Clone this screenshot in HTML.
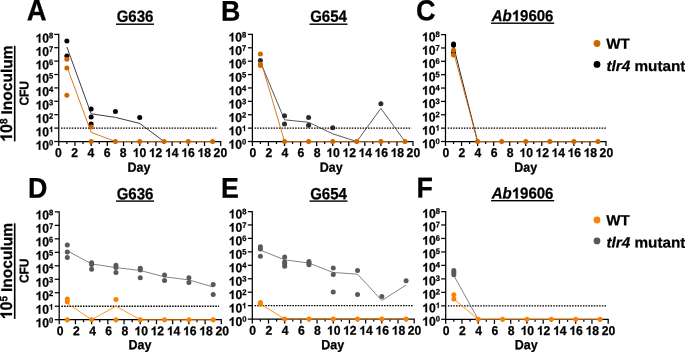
<!DOCTYPE html><html><head><meta charset="utf-8"><style>html,body{margin:0;padding:0;background:#fff;}svg{display:block;will-change:transform}text{font-family:"Liberation Sans", sans-serif;font-weight:bold;fill:#000;stroke:#000;stroke-width:0.25px} path.one{stroke:#000;stroke-width:0.25px;vector-effect:non-scaling-stroke} .t{font-size:12.2px}</style></head><body>
<svg width="685" height="352" viewBox="0 0 685 352">
<rect width="685" height="352" fill="#fff"/>
<path d="M54.25 34.30H58.75V146.00" fill="none" stroke="#000" stroke-width="1.25"/>
<line x1="54.25" y1="141.50" x2="58.75" y2="141.50" stroke="#000" stroke-width="1.25"/>
<line x1="54.25" y1="128.10" x2="58.75" y2="128.10" stroke="#000" stroke-width="1.25"/>
<line x1="54.25" y1="114.70" x2="58.75" y2="114.70" stroke="#000" stroke-width="1.25"/>
<line x1="54.25" y1="101.30" x2="58.75" y2="101.30" stroke="#000" stroke-width="1.25"/>
<line x1="54.25" y1="87.90" x2="58.75" y2="87.90" stroke="#000" stroke-width="1.25"/>
<line x1="54.25" y1="74.50" x2="58.75" y2="74.50" stroke="#000" stroke-width="1.25"/>
<line x1="54.25" y1="61.10" x2="58.75" y2="61.10" stroke="#000" stroke-width="1.25"/>
<line x1="54.25" y1="47.70" x2="58.75" y2="47.70" stroke="#000" stroke-width="1.25"/>
<path d="M58.75 141.50H220.70V146.00" fill="none" stroke="#000" stroke-width="1.25"/>
<line x1="66.85" y1="141.50" x2="66.85" y2="144.00" stroke="#000" stroke-width="1.25"/>
<line x1="74.94" y1="141.50" x2="74.94" y2="146.00" stroke="#000" stroke-width="1.25"/>
<line x1="83.04" y1="141.50" x2="83.04" y2="144.00" stroke="#000" stroke-width="1.25"/>
<line x1="91.14" y1="141.50" x2="91.14" y2="146.00" stroke="#000" stroke-width="1.25"/>
<line x1="99.24" y1="141.50" x2="99.24" y2="144.00" stroke="#000" stroke-width="1.25"/>
<line x1="107.34" y1="141.50" x2="107.34" y2="146.00" stroke="#000" stroke-width="1.25"/>
<line x1="115.43" y1="141.50" x2="115.43" y2="144.00" stroke="#000" stroke-width="1.25"/>
<line x1="123.53" y1="141.50" x2="123.53" y2="146.00" stroke="#000" stroke-width="1.25"/>
<line x1="131.63" y1="141.50" x2="131.63" y2="144.00" stroke="#000" stroke-width="1.25"/>
<line x1="139.72" y1="141.50" x2="139.72" y2="146.00" stroke="#000" stroke-width="1.25"/>
<line x1="147.82" y1="141.50" x2="147.82" y2="144.00" stroke="#000" stroke-width="1.25"/>
<line x1="155.92" y1="141.50" x2="155.92" y2="146.00" stroke="#000" stroke-width="1.25"/>
<line x1="164.02" y1="141.50" x2="164.02" y2="144.00" stroke="#000" stroke-width="1.25"/>
<line x1="172.12" y1="141.50" x2="172.12" y2="146.00" stroke="#000" stroke-width="1.25"/>
<line x1="180.21" y1="141.50" x2="180.21" y2="144.00" stroke="#000" stroke-width="1.25"/>
<line x1="188.31" y1="141.50" x2="188.31" y2="146.00" stroke="#000" stroke-width="1.25"/>
<line x1="196.41" y1="141.50" x2="196.41" y2="144.00" stroke="#000" stroke-width="1.25"/>
<line x1="204.50" y1="141.50" x2="204.50" y2="146.00" stroke="#000" stroke-width="1.25"/>
<line x1="212.60" y1="141.50" x2="212.60" y2="144.00" stroke="#000" stroke-width="1.25"/>
<g transform="translate(53.30 149.70) rotate(0.1) scale(1 1.05)"><path class="one" d="M819 0L538 0L538 1059Q384 915 175 846L175 1101Q285 1137 349.5 1187Q414 1237 478.5 1287Q543 1337 591 1466L819 1466Z" transform="translate(-17.797 0) scale(0.005957 -0.005725)"/><text x="-11.012" y="0" font-size="12.2">0</text><g transform="translate(0 -4.0)"><text x="-4.227" y="0" font-size="7.6">0</text></g></g>
<g transform="translate(53.30 136.30) rotate(0.1) scale(1 1.05)"><path class="one" d="M819 0L538 0L538 1059Q384 915 175 846L175 1101Q285 1137 349.5 1187Q414 1237 478.5 1287Q543 1337 591 1466L819 1466Z" transform="translate(-17.797 0) scale(0.005957 -0.005725)"/><text x="-11.012" y="0" font-size="12.2">0</text><g transform="translate(0 -4.0)"><path class="one" d="M819 0L538 0L538 1059Q384 915 175 846L175 1101Q285 1137 349.5 1187Q414 1237 478.5 1287Q543 1337 591 1466L819 1466Z" transform="translate(-4.227 0) scale(0.003711 -0.003567)"/></g></g>
<g transform="translate(53.30 122.90) rotate(0.1) scale(1 1.05)"><path class="one" d="M819 0L538 0L538 1059Q384 915 175 846L175 1101Q285 1137 349.5 1187Q414 1237 478.5 1287Q543 1337 591 1466L819 1466Z" transform="translate(-17.797 0) scale(0.005957 -0.005725)"/><text x="-11.012" y="0" font-size="12.2">0</text><g transform="translate(0 -4.0)"><text x="-4.227" y="0" font-size="7.6">2</text></g></g>
<g transform="translate(53.30 109.50) rotate(0.1) scale(1 1.05)"><path class="one" d="M819 0L538 0L538 1059Q384 915 175 846L175 1101Q285 1137 349.5 1187Q414 1237 478.5 1287Q543 1337 591 1466L819 1466Z" transform="translate(-17.797 0) scale(0.005957 -0.005725)"/><text x="-11.012" y="0" font-size="12.2">0</text><g transform="translate(0 -4.0)"><text x="-4.227" y="0" font-size="7.6">3</text></g></g>
<g transform="translate(53.30 96.10) rotate(0.1) scale(1 1.05)"><path class="one" d="M819 0L538 0L538 1059Q384 915 175 846L175 1101Q285 1137 349.5 1187Q414 1237 478.5 1287Q543 1337 591 1466L819 1466Z" transform="translate(-17.797 0) scale(0.005957 -0.005725)"/><text x="-11.012" y="0" font-size="12.2">0</text><g transform="translate(0 -4.0)"><text x="-4.227" y="0" font-size="7.6">4</text></g></g>
<g transform="translate(53.30 82.70) rotate(0.1) scale(1 1.05)"><path class="one" d="M819 0L538 0L538 1059Q384 915 175 846L175 1101Q285 1137 349.5 1187Q414 1237 478.5 1287Q543 1337 591 1466L819 1466Z" transform="translate(-17.797 0) scale(0.005957 -0.005725)"/><text x="-11.012" y="0" font-size="12.2">0</text><g transform="translate(0 -4.0)"><text x="-4.227" y="0" font-size="7.6">5</text></g></g>
<g transform="translate(53.30 69.30) rotate(0.1) scale(1 1.05)"><path class="one" d="M819 0L538 0L538 1059Q384 915 175 846L175 1101Q285 1137 349.5 1187Q414 1237 478.5 1287Q543 1337 591 1466L819 1466Z" transform="translate(-17.797 0) scale(0.005957 -0.005725)"/><text x="-11.012" y="0" font-size="12.2">0</text><g transform="translate(0 -4.0)"><text x="-4.227" y="0" font-size="7.6">6</text></g></g>
<g transform="translate(53.30 55.90) rotate(0.1) scale(1 1.05)"><path class="one" d="M819 0L538 0L538 1059Q384 915 175 846L175 1101Q285 1137 349.5 1187Q414 1237 478.5 1287Q543 1337 591 1466L819 1466Z" transform="translate(-17.797 0) scale(0.005957 -0.005725)"/><text x="-11.012" y="0" font-size="12.2">0</text><g transform="translate(0 -4.0)"><text x="-4.227" y="0" font-size="7.6">7</text></g></g>
<g transform="translate(53.30 42.50) rotate(0.1) scale(1 1.05)"><path class="one" d="M819 0L538 0L538 1059Q384 915 175 846L175 1101Q285 1137 349.5 1187Q414 1237 478.5 1287Q543 1337 591 1466L819 1466Z" transform="translate(-17.797 0) scale(0.005957 -0.005725)"/><text x="-11.012" y="0" font-size="12.2">0</text><g transform="translate(0 -4.0)"><text x="-4.227" y="0" font-size="7.6">8</text></g></g>
<g transform="translate(58.45 157.10) rotate(0.1) scale(1 1.05)"><text x="-3.393" y="0" font-size="12.2">0</text></g>
<g transform="translate(74.64 157.10) rotate(0.1) scale(1 1.05)"><text x="-3.393" y="0" font-size="12.2">2</text></g>
<g transform="translate(90.84 157.10) rotate(0.1) scale(1 1.05)"><text x="-3.393" y="0" font-size="12.2">4</text></g>
<g transform="translate(107.04 157.10) rotate(0.1) scale(1 1.05)"><text x="-3.393" y="0" font-size="12.2">6</text></g>
<g transform="translate(123.23 157.10) rotate(0.1) scale(1 1.05)"><text x="-3.393" y="0" font-size="12.2">8</text></g>
<g transform="translate(139.42 157.10) rotate(0.1) scale(1 1.05)"><path class="one" d="M819 0L538 0L538 1059Q384 915 175 846L175 1101Q285 1137 349.5 1187Q414 1237 478.5 1287Q543 1337 591 1466L819 1466Z" transform="translate(-6.785 0) scale(0.005957 -0.005725)"/><text x="0.000" y="0" font-size="12.2">0</text></g>
<g transform="translate(155.62 157.10) rotate(0.1) scale(1 1.05)"><path class="one" d="M819 0L538 0L538 1059Q384 915 175 846L175 1101Q285 1137 349.5 1187Q414 1237 478.5 1287Q543 1337 591 1466L819 1466Z" transform="translate(-6.785 0) scale(0.005957 -0.005725)"/><text x="0.000" y="0" font-size="12.2">2</text></g>
<g transform="translate(171.81 157.10) rotate(0.1) scale(1 1.05)"><path class="one" d="M819 0L538 0L538 1059Q384 915 175 846L175 1101Q285 1137 349.5 1187Q414 1237 478.5 1287Q543 1337 591 1466L819 1466Z" transform="translate(-6.785 0) scale(0.005957 -0.005725)"/><text x="0.000" y="0" font-size="12.2">4</text></g>
<g transform="translate(188.01 157.10) rotate(0.1) scale(1 1.05)"><path class="one" d="M819 0L538 0L538 1059Q384 915 175 846L175 1101Q285 1137 349.5 1187Q414 1237 478.5 1287Q543 1337 591 1466L819 1466Z" transform="translate(-6.785 0) scale(0.005957 -0.005725)"/><text x="0.000" y="0" font-size="12.2">6</text></g>
<g transform="translate(204.20 157.10) rotate(0.1) scale(1 1.05)"><path class="one" d="M819 0L538 0L538 1059Q384 915 175 846L175 1101Q285 1137 349.5 1187Q414 1237 478.5 1287Q543 1337 591 1466L819 1466Z" transform="translate(-6.785 0) scale(0.005957 -0.005725)"/><text x="0.000" y="0" font-size="12.2">8</text></g>
<g transform="translate(220.40 157.10) rotate(0.1) scale(1 1.05)"><text x="-6.785" y="0" font-size="12.2">20</text></g>
<line x1="60.95" y1="128.10" x2="217.80" y2="128.10" stroke="#000" stroke-width="1.35" stroke-dasharray="1.55 1.15"/>
<polyline points="66.85,47.00 91.14,113.80 115.43,117.40 139.72,123.40 164.02,141.50 212.60,141.50" fill="none" stroke="#1a1a1a" stroke-width="0.85" stroke-linejoin="round"/>
<polyline points="66.85,66.50 91.14,132.30 115.43,141.50 212.60,141.50" fill="none" stroke="#cc6600" stroke-width="0.85" stroke-linejoin="round"/>
<circle cx="66.85" cy="41.10" r="2.5" fill="#000000"/>
<circle cx="66.85" cy="55.90" r="2.5" fill="#000000"/>
<circle cx="91.14" cy="108.90" r="2.5" fill="#000000"/>
<circle cx="91.14" cy="117.00" r="2.5" fill="#000000"/>
<circle cx="91.14" cy="123.90" r="2.5" fill="#000000"/>
<circle cx="115.43" cy="111.50" r="2.5" fill="#000000"/>
<circle cx="139.72" cy="117.50" r="2.5" fill="#000000"/>
<circle cx="66.85" cy="59.30" r="2.5" fill="#cc6600"/>
<circle cx="66.85" cy="68.00" r="2.5" fill="#cc6600"/>
<circle cx="66.85" cy="95.20" r="2.5" fill="#cc6600"/>
<circle cx="91.14" cy="127.10" r="2.5" fill="#cc6600"/>
<circle cx="91.14" cy="141.50" r="2.5" fill="#cc6600"/>
<circle cx="115.43" cy="141.50" r="2.5" fill="#cc6600"/>
<circle cx="139.72" cy="141.50" r="2.5" fill="#cc6600"/>
<circle cx="164.02" cy="141.50" r="2.5" fill="#cc6600"/>
<circle cx="188.31" cy="141.50" r="2.5" fill="#cc6600"/>
<circle cx="212.60" cy="141.50" r="2.5" fill="#cc6600"/>
<path d="M247.90 34.40H252.40V146.00" fill="none" stroke="#000" stroke-width="1.25"/>
<line x1="247.90" y1="141.50" x2="252.40" y2="141.50" stroke="#000" stroke-width="1.25"/>
<line x1="247.90" y1="128.11" x2="252.40" y2="128.11" stroke="#000" stroke-width="1.25"/>
<line x1="247.90" y1="114.72" x2="252.40" y2="114.72" stroke="#000" stroke-width="1.25"/>
<line x1="247.90" y1="101.34" x2="252.40" y2="101.34" stroke="#000" stroke-width="1.25"/>
<line x1="247.90" y1="87.95" x2="252.40" y2="87.95" stroke="#000" stroke-width="1.25"/>
<line x1="247.90" y1="74.56" x2="252.40" y2="74.56" stroke="#000" stroke-width="1.25"/>
<line x1="247.90" y1="61.18" x2="252.40" y2="61.18" stroke="#000" stroke-width="1.25"/>
<line x1="247.90" y1="47.79" x2="252.40" y2="47.79" stroke="#000" stroke-width="1.25"/>
<path d="M252.40 141.50H413.00V146.00" fill="none" stroke="#000" stroke-width="1.25"/>
<line x1="260.43" y1="141.50" x2="260.43" y2="144.00" stroke="#000" stroke-width="1.25"/>
<line x1="268.46" y1="141.50" x2="268.46" y2="146.00" stroke="#000" stroke-width="1.25"/>
<line x1="276.49" y1="141.50" x2="276.49" y2="144.00" stroke="#000" stroke-width="1.25"/>
<line x1="284.52" y1="141.50" x2="284.52" y2="146.00" stroke="#000" stroke-width="1.25"/>
<line x1="292.55" y1="141.50" x2="292.55" y2="144.00" stroke="#000" stroke-width="1.25"/>
<line x1="300.58" y1="141.50" x2="300.58" y2="146.00" stroke="#000" stroke-width="1.25"/>
<line x1="308.61" y1="141.50" x2="308.61" y2="144.00" stroke="#000" stroke-width="1.25"/>
<line x1="316.64" y1="141.50" x2="316.64" y2="146.00" stroke="#000" stroke-width="1.25"/>
<line x1="324.67" y1="141.50" x2="324.67" y2="144.00" stroke="#000" stroke-width="1.25"/>
<line x1="332.70" y1="141.50" x2="332.70" y2="146.00" stroke="#000" stroke-width="1.25"/>
<line x1="340.73" y1="141.50" x2="340.73" y2="144.00" stroke="#000" stroke-width="1.25"/>
<line x1="348.76" y1="141.50" x2="348.76" y2="146.00" stroke="#000" stroke-width="1.25"/>
<line x1="356.79" y1="141.50" x2="356.79" y2="144.00" stroke="#000" stroke-width="1.25"/>
<line x1="364.82" y1="141.50" x2="364.82" y2="146.00" stroke="#000" stroke-width="1.25"/>
<line x1="372.85" y1="141.50" x2="372.85" y2="144.00" stroke="#000" stroke-width="1.25"/>
<line x1="380.88" y1="141.50" x2="380.88" y2="146.00" stroke="#000" stroke-width="1.25"/>
<line x1="388.91" y1="141.50" x2="388.91" y2="144.00" stroke="#000" stroke-width="1.25"/>
<line x1="396.94" y1="141.50" x2="396.94" y2="146.00" stroke="#000" stroke-width="1.25"/>
<line x1="404.97" y1="141.50" x2="404.97" y2="144.00" stroke="#000" stroke-width="1.25"/>
<g transform="translate(246.20 148.70) rotate(0.1) scale(1 1.05)"><path class="one" d="M819 0L538 0L538 1059Q384 915 175 846L175 1101Q285 1137 349.5 1187Q414 1237 478.5 1287Q543 1337 591 1466L819 1466Z" transform="translate(-17.797 0) scale(0.005957 -0.005725)"/><text x="-11.012" y="0" font-size="12.2">0</text><g transform="translate(0 -4.0)"><text x="-4.227" y="0" font-size="7.6">0</text></g></g>
<g transform="translate(246.20 135.31) rotate(0.1) scale(1 1.05)"><path class="one" d="M819 0L538 0L538 1059Q384 915 175 846L175 1101Q285 1137 349.5 1187Q414 1237 478.5 1287Q543 1337 591 1466L819 1466Z" transform="translate(-17.797 0) scale(0.005957 -0.005725)"/><text x="-11.012" y="0" font-size="12.2">0</text><g transform="translate(0 -4.0)"><path class="one" d="M819 0L538 0L538 1059Q384 915 175 846L175 1101Q285 1137 349.5 1187Q414 1237 478.5 1287Q543 1337 591 1466L819 1466Z" transform="translate(-4.227 0) scale(0.003711 -0.003567)"/></g></g>
<g transform="translate(246.20 121.92) rotate(0.1) scale(1 1.05)"><path class="one" d="M819 0L538 0L538 1059Q384 915 175 846L175 1101Q285 1137 349.5 1187Q414 1237 478.5 1287Q543 1337 591 1466L819 1466Z" transform="translate(-17.797 0) scale(0.005957 -0.005725)"/><text x="-11.012" y="0" font-size="12.2">0</text><g transform="translate(0 -4.0)"><text x="-4.227" y="0" font-size="7.6">2</text></g></g>
<g transform="translate(246.20 108.54) rotate(0.1) scale(1 1.05)"><path class="one" d="M819 0L538 0L538 1059Q384 915 175 846L175 1101Q285 1137 349.5 1187Q414 1237 478.5 1287Q543 1337 591 1466L819 1466Z" transform="translate(-17.797 0) scale(0.005957 -0.005725)"/><text x="-11.012" y="0" font-size="12.2">0</text><g transform="translate(0 -4.0)"><text x="-4.227" y="0" font-size="7.6">3</text></g></g>
<g transform="translate(246.20 95.15) rotate(0.1) scale(1 1.05)"><path class="one" d="M819 0L538 0L538 1059Q384 915 175 846L175 1101Q285 1137 349.5 1187Q414 1237 478.5 1287Q543 1337 591 1466L819 1466Z" transform="translate(-17.797 0) scale(0.005957 -0.005725)"/><text x="-11.012" y="0" font-size="12.2">0</text><g transform="translate(0 -4.0)"><text x="-4.227" y="0" font-size="7.6">4</text></g></g>
<g transform="translate(246.20 81.76) rotate(0.1) scale(1 1.05)"><path class="one" d="M819 0L538 0L538 1059Q384 915 175 846L175 1101Q285 1137 349.5 1187Q414 1237 478.5 1287Q543 1337 591 1466L819 1466Z" transform="translate(-17.797 0) scale(0.005957 -0.005725)"/><text x="-11.012" y="0" font-size="12.2">0</text><g transform="translate(0 -4.0)"><text x="-4.227" y="0" font-size="7.6">5</text></g></g>
<g transform="translate(246.20 68.38) rotate(0.1) scale(1 1.05)"><path class="one" d="M819 0L538 0L538 1059Q384 915 175 846L175 1101Q285 1137 349.5 1187Q414 1237 478.5 1287Q543 1337 591 1466L819 1466Z" transform="translate(-17.797 0) scale(0.005957 -0.005725)"/><text x="-11.012" y="0" font-size="12.2">0</text><g transform="translate(0 -4.0)"><text x="-4.227" y="0" font-size="7.6">6</text></g></g>
<g transform="translate(246.20 54.99) rotate(0.1) scale(1 1.05)"><path class="one" d="M819 0L538 0L538 1059Q384 915 175 846L175 1101Q285 1137 349.5 1187Q414 1237 478.5 1287Q543 1337 591 1466L819 1466Z" transform="translate(-17.797 0) scale(0.005957 -0.005725)"/><text x="-11.012" y="0" font-size="12.2">0</text><g transform="translate(0 -4.0)"><text x="-4.227" y="0" font-size="7.6">7</text></g></g>
<g transform="translate(246.20 41.60) rotate(0.1) scale(1 1.05)"><path class="one" d="M819 0L538 0L538 1059Q384 915 175 846L175 1101Q285 1137 349.5 1187Q414 1237 478.5 1287Q543 1337 591 1466L819 1466Z" transform="translate(-17.797 0) scale(0.005957 -0.005725)"/><text x="-11.012" y="0" font-size="12.2">0</text><g transform="translate(0 -4.0)"><text x="-4.227" y="0" font-size="7.6">8</text></g></g>
<g transform="translate(252.80 157.10) rotate(0.1) scale(1 1.05)"><text x="-3.393" y="0" font-size="12.2">0</text></g>
<g transform="translate(268.86 157.10) rotate(0.1) scale(1 1.05)"><text x="-3.393" y="0" font-size="12.2">2</text></g>
<g transform="translate(284.92 157.10) rotate(0.1) scale(1 1.05)"><text x="-3.393" y="0" font-size="12.2">4</text></g>
<g transform="translate(300.98 157.10) rotate(0.1) scale(1 1.05)"><text x="-3.393" y="0" font-size="12.2">6</text></g>
<g transform="translate(317.04 157.10) rotate(0.1) scale(1 1.05)"><text x="-3.393" y="0" font-size="12.2">8</text></g>
<g transform="translate(333.10 157.10) rotate(0.1) scale(1 1.05)"><path class="one" d="M819 0L538 0L538 1059Q384 915 175 846L175 1101Q285 1137 349.5 1187Q414 1237 478.5 1287Q543 1337 591 1466L819 1466Z" transform="translate(-6.785 0) scale(0.005957 -0.005725)"/><text x="0.000" y="0" font-size="12.2">0</text></g>
<g transform="translate(349.16 157.10) rotate(0.1) scale(1 1.05)"><path class="one" d="M819 0L538 0L538 1059Q384 915 175 846L175 1101Q285 1137 349.5 1187Q414 1237 478.5 1287Q543 1337 591 1466L819 1466Z" transform="translate(-6.785 0) scale(0.005957 -0.005725)"/><text x="0.000" y="0" font-size="12.2">2</text></g>
<g transform="translate(365.22 157.10) rotate(0.1) scale(1 1.05)"><path class="one" d="M819 0L538 0L538 1059Q384 915 175 846L175 1101Q285 1137 349.5 1187Q414 1237 478.5 1287Q543 1337 591 1466L819 1466Z" transform="translate(-6.785 0) scale(0.005957 -0.005725)"/><text x="0.000" y="0" font-size="12.2">4</text></g>
<g transform="translate(381.28 157.10) rotate(0.1) scale(1 1.05)"><path class="one" d="M819 0L538 0L538 1059Q384 915 175 846L175 1101Q285 1137 349.5 1187Q414 1237 478.5 1287Q543 1337 591 1466L819 1466Z" transform="translate(-6.785 0) scale(0.005957 -0.005725)"/><text x="0.000" y="0" font-size="12.2">6</text></g>
<g transform="translate(397.34 157.10) rotate(0.1) scale(1 1.05)"><path class="one" d="M819 0L538 0L538 1059Q384 915 175 846L175 1101Q285 1137 349.5 1187Q414 1237 478.5 1287Q543 1337 591 1466L819 1466Z" transform="translate(-6.785 0) scale(0.005957 -0.005725)"/><text x="0.000" y="0" font-size="12.2">8</text></g>
<g transform="translate(413.40 157.10) rotate(0.1) scale(1 1.05)"><text x="-6.785" y="0" font-size="12.2">20</text></g>
<line x1="254.60" y1="128.11" x2="411.40" y2="128.11" stroke="#000" stroke-width="1.35" stroke-dasharray="1.55 1.15"/>
<polyline points="260.43,62.00 284.52,119.80 308.61,122.30 332.70,133.80 356.79,141.50 380.88,108.40 404.97,141.50" fill="none" stroke="#3c3c3c" stroke-width="0.85" stroke-linejoin="round"/>
<polyline points="260.43,59.50 284.52,141.50 404.97,141.50" fill="none" stroke="#cc6600" stroke-width="0.85" stroke-linejoin="round"/>
<circle cx="260.43" cy="60.50" r="2.5" fill="#2b2b2b"/>
<circle cx="284.52" cy="115.70" r="2.5" fill="#2b2b2b"/>
<circle cx="284.52" cy="124.00" r="2.5" fill="#2b2b2b"/>
<circle cx="308.61" cy="117.50" r="2.5" fill="#2b2b2b"/>
<circle cx="308.61" cy="125.20" r="2.5" fill="#2b2b2b"/>
<circle cx="332.70" cy="127.80" r="2.5" fill="#2b2b2b"/>
<circle cx="380.88" cy="103.70" r="2.5" fill="#2b2b2b"/>
<circle cx="260.43" cy="53.90" r="2.5" fill="#cc6600"/>
<circle cx="260.43" cy="64.30" r="2.5" fill="#cc6600"/>
<circle cx="260.43" cy="65.60" r="2.5" fill="#cc6600"/>
<circle cx="284.52" cy="141.50" r="2.5" fill="#cc6600"/>
<circle cx="308.61" cy="141.50" r="2.5" fill="#cc6600"/>
<circle cx="332.70" cy="141.50" r="2.5" fill="#cc6600"/>
<circle cx="356.79" cy="141.50" r="2.5" fill="#cc6600"/>
<circle cx="380.88" cy="141.50" r="2.5" fill="#cc6600"/>
<circle cx="404.97" cy="141.50" r="2.5" fill="#cc6600"/>
<path d="M441.00 34.60H445.50V146.00" fill="none" stroke="#000" stroke-width="1.25"/>
<line x1="441.00" y1="141.50" x2="445.50" y2="141.50" stroke="#000" stroke-width="1.25"/>
<line x1="441.00" y1="128.14" x2="445.50" y2="128.14" stroke="#000" stroke-width="1.25"/>
<line x1="441.00" y1="114.78" x2="445.50" y2="114.78" stroke="#000" stroke-width="1.25"/>
<line x1="441.00" y1="101.41" x2="445.50" y2="101.41" stroke="#000" stroke-width="1.25"/>
<line x1="441.00" y1="88.05" x2="445.50" y2="88.05" stroke="#000" stroke-width="1.25"/>
<line x1="441.00" y1="74.69" x2="445.50" y2="74.69" stroke="#000" stroke-width="1.25"/>
<line x1="441.00" y1="61.32" x2="445.50" y2="61.32" stroke="#000" stroke-width="1.25"/>
<line x1="441.00" y1="47.96" x2="445.50" y2="47.96" stroke="#000" stroke-width="1.25"/>
<path d="M445.50 141.50H606.00V146.00" fill="none" stroke="#000" stroke-width="1.25"/>
<line x1="453.52" y1="141.50" x2="453.52" y2="144.00" stroke="#000" stroke-width="1.25"/>
<line x1="461.55" y1="141.50" x2="461.55" y2="146.00" stroke="#000" stroke-width="1.25"/>
<line x1="469.57" y1="141.50" x2="469.57" y2="144.00" stroke="#000" stroke-width="1.25"/>
<line x1="477.60" y1="141.50" x2="477.60" y2="146.00" stroke="#000" stroke-width="1.25"/>
<line x1="485.62" y1="141.50" x2="485.62" y2="144.00" stroke="#000" stroke-width="1.25"/>
<line x1="493.65" y1="141.50" x2="493.65" y2="146.00" stroke="#000" stroke-width="1.25"/>
<line x1="501.68" y1="141.50" x2="501.68" y2="144.00" stroke="#000" stroke-width="1.25"/>
<line x1="509.70" y1="141.50" x2="509.70" y2="146.00" stroke="#000" stroke-width="1.25"/>
<line x1="517.73" y1="141.50" x2="517.73" y2="144.00" stroke="#000" stroke-width="1.25"/>
<line x1="525.75" y1="141.50" x2="525.75" y2="146.00" stroke="#000" stroke-width="1.25"/>
<line x1="533.77" y1="141.50" x2="533.77" y2="144.00" stroke="#000" stroke-width="1.25"/>
<line x1="541.80" y1="141.50" x2="541.80" y2="146.00" stroke="#000" stroke-width="1.25"/>
<line x1="549.83" y1="141.50" x2="549.83" y2="144.00" stroke="#000" stroke-width="1.25"/>
<line x1="557.85" y1="141.50" x2="557.85" y2="146.00" stroke="#000" stroke-width="1.25"/>
<line x1="565.88" y1="141.50" x2="565.88" y2="144.00" stroke="#000" stroke-width="1.25"/>
<line x1="573.90" y1="141.50" x2="573.90" y2="146.00" stroke="#000" stroke-width="1.25"/>
<line x1="581.92" y1="141.50" x2="581.92" y2="144.00" stroke="#000" stroke-width="1.25"/>
<line x1="589.95" y1="141.50" x2="589.95" y2="146.00" stroke="#000" stroke-width="1.25"/>
<line x1="597.98" y1="141.50" x2="597.98" y2="144.00" stroke="#000" stroke-width="1.25"/>
<g transform="translate(439.70 148.20) rotate(0.1) scale(1 1.05)"><path class="one" d="M819 0L538 0L538 1059Q384 915 175 846L175 1101Q285 1137 349.5 1187Q414 1237 478.5 1287Q543 1337 591 1466L819 1466Z" transform="translate(-17.797 0) scale(0.005957 -0.005725)"/><text x="-11.012" y="0" font-size="12.2">0</text><g transform="translate(0 -4.0)"><text x="-4.227" y="0" font-size="7.6">0</text></g></g>
<g transform="translate(439.70 134.84) rotate(0.1) scale(1 1.05)"><path class="one" d="M819 0L538 0L538 1059Q384 915 175 846L175 1101Q285 1137 349.5 1187Q414 1237 478.5 1287Q543 1337 591 1466L819 1466Z" transform="translate(-17.797 0) scale(0.005957 -0.005725)"/><text x="-11.012" y="0" font-size="12.2">0</text><g transform="translate(0 -4.0)"><path class="one" d="M819 0L538 0L538 1059Q384 915 175 846L175 1101Q285 1137 349.5 1187Q414 1237 478.5 1287Q543 1337 591 1466L819 1466Z" transform="translate(-4.227 0) scale(0.003711 -0.003567)"/></g></g>
<g transform="translate(439.70 121.48) rotate(0.1) scale(1 1.05)"><path class="one" d="M819 0L538 0L538 1059Q384 915 175 846L175 1101Q285 1137 349.5 1187Q414 1237 478.5 1287Q543 1337 591 1466L819 1466Z" transform="translate(-17.797 0) scale(0.005957 -0.005725)"/><text x="-11.012" y="0" font-size="12.2">0</text><g transform="translate(0 -4.0)"><text x="-4.227" y="0" font-size="7.6">2</text></g></g>
<g transform="translate(439.70 108.11) rotate(0.1) scale(1 1.05)"><path class="one" d="M819 0L538 0L538 1059Q384 915 175 846L175 1101Q285 1137 349.5 1187Q414 1237 478.5 1287Q543 1337 591 1466L819 1466Z" transform="translate(-17.797 0) scale(0.005957 -0.005725)"/><text x="-11.012" y="0" font-size="12.2">0</text><g transform="translate(0 -4.0)"><text x="-4.227" y="0" font-size="7.6">3</text></g></g>
<g transform="translate(439.70 94.75) rotate(0.1) scale(1 1.05)"><path class="one" d="M819 0L538 0L538 1059Q384 915 175 846L175 1101Q285 1137 349.5 1187Q414 1237 478.5 1287Q543 1337 591 1466L819 1466Z" transform="translate(-17.797 0) scale(0.005957 -0.005725)"/><text x="-11.012" y="0" font-size="12.2">0</text><g transform="translate(0 -4.0)"><text x="-4.227" y="0" font-size="7.6">4</text></g></g>
<g transform="translate(439.70 81.39) rotate(0.1) scale(1 1.05)"><path class="one" d="M819 0L538 0L538 1059Q384 915 175 846L175 1101Q285 1137 349.5 1187Q414 1237 478.5 1287Q543 1337 591 1466L819 1466Z" transform="translate(-17.797 0) scale(0.005957 -0.005725)"/><text x="-11.012" y="0" font-size="12.2">0</text><g transform="translate(0 -4.0)"><text x="-4.227" y="0" font-size="7.6">5</text></g></g>
<g transform="translate(439.70 68.02) rotate(0.1) scale(1 1.05)"><path class="one" d="M819 0L538 0L538 1059Q384 915 175 846L175 1101Q285 1137 349.5 1187Q414 1237 478.5 1287Q543 1337 591 1466L819 1466Z" transform="translate(-17.797 0) scale(0.005957 -0.005725)"/><text x="-11.012" y="0" font-size="12.2">0</text><g transform="translate(0 -4.0)"><text x="-4.227" y="0" font-size="7.6">6</text></g></g>
<g transform="translate(439.70 54.66) rotate(0.1) scale(1 1.05)"><path class="one" d="M819 0L538 0L538 1059Q384 915 175 846L175 1101Q285 1137 349.5 1187Q414 1237 478.5 1287Q543 1337 591 1466L819 1466Z" transform="translate(-17.797 0) scale(0.005957 -0.005725)"/><text x="-11.012" y="0" font-size="12.2">0</text><g transform="translate(0 -4.0)"><text x="-4.227" y="0" font-size="7.6">7</text></g></g>
<g transform="translate(439.70 41.30) rotate(0.1) scale(1 1.05)"><path class="one" d="M819 0L538 0L538 1059Q384 915 175 846L175 1101Q285 1137 349.5 1187Q414 1237 478.5 1287Q543 1337 591 1466L819 1466Z" transform="translate(-17.797 0) scale(0.005957 -0.005725)"/><text x="-11.012" y="0" font-size="12.2">0</text><g transform="translate(0 -4.0)"><text x="-4.227" y="0" font-size="7.6">8</text></g></g>
<g transform="translate(445.90 157.10) rotate(0.1) scale(1 1.05)"><text x="-3.393" y="0" font-size="12.2">0</text></g>
<g transform="translate(461.95 157.10) rotate(0.1) scale(1 1.05)"><text x="-3.393" y="0" font-size="12.2">2</text></g>
<g transform="translate(478.00 157.10) rotate(0.1) scale(1 1.05)"><text x="-3.393" y="0" font-size="12.2">4</text></g>
<g transform="translate(494.05 157.10) rotate(0.1) scale(1 1.05)"><text x="-3.393" y="0" font-size="12.2">6</text></g>
<g transform="translate(510.10 157.10) rotate(0.1) scale(1 1.05)"><text x="-3.393" y="0" font-size="12.2">8</text></g>
<g transform="translate(526.15 157.10) rotate(0.1) scale(1 1.05)"><path class="one" d="M819 0L538 0L538 1059Q384 915 175 846L175 1101Q285 1137 349.5 1187Q414 1237 478.5 1287Q543 1337 591 1466L819 1466Z" transform="translate(-6.785 0) scale(0.005957 -0.005725)"/><text x="0.000" y="0" font-size="12.2">0</text></g>
<g transform="translate(542.20 157.10) rotate(0.1) scale(1 1.05)"><path class="one" d="M819 0L538 0L538 1059Q384 915 175 846L175 1101Q285 1137 349.5 1187Q414 1237 478.5 1287Q543 1337 591 1466L819 1466Z" transform="translate(-6.785 0) scale(0.005957 -0.005725)"/><text x="0.000" y="0" font-size="12.2">2</text></g>
<g transform="translate(558.25 157.10) rotate(0.1) scale(1 1.05)"><path class="one" d="M819 0L538 0L538 1059Q384 915 175 846L175 1101Q285 1137 349.5 1187Q414 1237 478.5 1287Q543 1337 591 1466L819 1466Z" transform="translate(-6.785 0) scale(0.005957 -0.005725)"/><text x="0.000" y="0" font-size="12.2">4</text></g>
<g transform="translate(574.30 157.10) rotate(0.1) scale(1 1.05)"><path class="one" d="M819 0L538 0L538 1059Q384 915 175 846L175 1101Q285 1137 349.5 1187Q414 1237 478.5 1287Q543 1337 591 1466L819 1466Z" transform="translate(-6.785 0) scale(0.005957 -0.005725)"/><text x="0.000" y="0" font-size="12.2">6</text></g>
<g transform="translate(590.35 157.10) rotate(0.1) scale(1 1.05)"><path class="one" d="M819 0L538 0L538 1059Q384 915 175 846L175 1101Q285 1137 349.5 1187Q414 1237 478.5 1287Q543 1337 591 1466L819 1466Z" transform="translate(-6.785 0) scale(0.005957 -0.005725)"/><text x="0.000" y="0" font-size="12.2">8</text></g>
<g transform="translate(606.40 157.10) rotate(0.1) scale(1 1.05)"><text x="-6.785" y="0" font-size="12.2">20</text></g>
<line x1="447.70" y1="128.14" x2="606.20" y2="128.14" stroke="#000" stroke-width="1.35" stroke-dasharray="1.55 1.15"/>
<polyline points="453.52,46.00 477.60,141.50" fill="none" stroke="#000" stroke-width="0.85" stroke-linejoin="round"/>
<polyline points="453.52,52.00 477.60,141.50 597.98,141.50" fill="none" stroke="#cc6600" stroke-width="0.85" stroke-linejoin="round"/>
<circle cx="453.52" cy="44.00" r="2.5" fill="#000000"/>
<circle cx="453.52" cy="45.20" r="2.5" fill="#000000"/>
<circle cx="453.52" cy="52.80" r="2.5" fill="#000000"/>
<circle cx="453.52" cy="50.20" r="2.5" fill="#cc6600"/>
<circle cx="453.52" cy="55.00" r="2.5" fill="#cc6600"/>
<circle cx="477.60" cy="141.50" r="2.5" fill="#cc6600"/>
<circle cx="501.68" cy="141.50" r="2.5" fill="#cc6600"/>
<circle cx="525.75" cy="141.50" r="2.5" fill="#cc6600"/>
<circle cx="549.83" cy="141.50" r="2.5" fill="#cc6600"/>
<circle cx="573.90" cy="141.50" r="2.5" fill="#cc6600"/>
<circle cx="597.98" cy="141.50" r="2.5" fill="#cc6600"/>
<path d="M54.70 211.90H59.20V324.20" fill="none" stroke="#000" stroke-width="1.25"/>
<line x1="54.70" y1="319.70" x2="59.20" y2="319.70" stroke="#000" stroke-width="1.25"/>
<line x1="54.70" y1="306.22" x2="59.20" y2="306.22" stroke="#000" stroke-width="1.25"/>
<line x1="54.70" y1="292.75" x2="59.20" y2="292.75" stroke="#000" stroke-width="1.25"/>
<line x1="54.70" y1="279.27" x2="59.20" y2="279.27" stroke="#000" stroke-width="1.25"/>
<line x1="54.70" y1="265.80" x2="59.20" y2="265.80" stroke="#000" stroke-width="1.25"/>
<line x1="54.70" y1="252.32" x2="59.20" y2="252.32" stroke="#000" stroke-width="1.25"/>
<line x1="54.70" y1="238.85" x2="59.20" y2="238.85" stroke="#000" stroke-width="1.25"/>
<line x1="54.70" y1="225.38" x2="59.20" y2="225.38" stroke="#000" stroke-width="1.25"/>
<path d="M59.20 319.70H221.30V324.20" fill="none" stroke="#000" stroke-width="1.25"/>
<line x1="67.31" y1="319.70" x2="67.31" y2="322.20" stroke="#000" stroke-width="1.25"/>
<line x1="75.41" y1="319.70" x2="75.41" y2="324.20" stroke="#000" stroke-width="1.25"/>
<line x1="83.52" y1="319.70" x2="83.52" y2="322.20" stroke="#000" stroke-width="1.25"/>
<line x1="91.62" y1="319.70" x2="91.62" y2="324.20" stroke="#000" stroke-width="1.25"/>
<line x1="99.73" y1="319.70" x2="99.73" y2="322.20" stroke="#000" stroke-width="1.25"/>
<line x1="107.83" y1="319.70" x2="107.83" y2="324.20" stroke="#000" stroke-width="1.25"/>
<line x1="115.94" y1="319.70" x2="115.94" y2="322.20" stroke="#000" stroke-width="1.25"/>
<line x1="124.04" y1="319.70" x2="124.04" y2="324.20" stroke="#000" stroke-width="1.25"/>
<line x1="132.15" y1="319.70" x2="132.15" y2="322.20" stroke="#000" stroke-width="1.25"/>
<line x1="140.25" y1="319.70" x2="140.25" y2="324.20" stroke="#000" stroke-width="1.25"/>
<line x1="148.36" y1="319.70" x2="148.36" y2="322.20" stroke="#000" stroke-width="1.25"/>
<line x1="156.46" y1="319.70" x2="156.46" y2="324.20" stroke="#000" stroke-width="1.25"/>
<line x1="164.56" y1="319.70" x2="164.56" y2="322.20" stroke="#000" stroke-width="1.25"/>
<line x1="172.67" y1="319.70" x2="172.67" y2="324.20" stroke="#000" stroke-width="1.25"/>
<line x1="180.78" y1="319.70" x2="180.78" y2="322.20" stroke="#000" stroke-width="1.25"/>
<line x1="188.88" y1="319.70" x2="188.88" y2="324.20" stroke="#000" stroke-width="1.25"/>
<line x1="196.99" y1="319.70" x2="196.99" y2="322.20" stroke="#000" stroke-width="1.25"/>
<line x1="205.09" y1="319.70" x2="205.09" y2="324.20" stroke="#000" stroke-width="1.25"/>
<line x1="213.19" y1="319.70" x2="213.19" y2="322.20" stroke="#000" stroke-width="1.25"/>
<g transform="translate(53.25 327.20) rotate(0.1) scale(1 1.05)"><path class="one" d="M819 0L538 0L538 1059Q384 915 175 846L175 1101Q285 1137 349.5 1187Q414 1237 478.5 1287Q543 1337 591 1466L819 1466Z" transform="translate(-17.797 0) scale(0.005957 -0.005725)"/><text x="-11.012" y="0" font-size="12.2">0</text><g transform="translate(0 -4.0)"><text x="-4.227" y="0" font-size="7.6">0</text></g></g>
<g transform="translate(53.25 313.72) rotate(0.1) scale(1 1.05)"><path class="one" d="M819 0L538 0L538 1059Q384 915 175 846L175 1101Q285 1137 349.5 1187Q414 1237 478.5 1287Q543 1337 591 1466L819 1466Z" transform="translate(-17.797 0) scale(0.005957 -0.005725)"/><text x="-11.012" y="0" font-size="12.2">0</text><g transform="translate(0 -4.0)"><path class="one" d="M819 0L538 0L538 1059Q384 915 175 846L175 1101Q285 1137 349.5 1187Q414 1237 478.5 1287Q543 1337 591 1466L819 1466Z" transform="translate(-4.227 0) scale(0.003711 -0.003567)"/></g></g>
<g transform="translate(53.25 300.25) rotate(0.1) scale(1 1.05)"><path class="one" d="M819 0L538 0L538 1059Q384 915 175 846L175 1101Q285 1137 349.5 1187Q414 1237 478.5 1287Q543 1337 591 1466L819 1466Z" transform="translate(-17.797 0) scale(0.005957 -0.005725)"/><text x="-11.012" y="0" font-size="12.2">0</text><g transform="translate(0 -4.0)"><text x="-4.227" y="0" font-size="7.6">2</text></g></g>
<g transform="translate(53.25 286.77) rotate(0.1) scale(1 1.05)"><path class="one" d="M819 0L538 0L538 1059Q384 915 175 846L175 1101Q285 1137 349.5 1187Q414 1237 478.5 1287Q543 1337 591 1466L819 1466Z" transform="translate(-17.797 0) scale(0.005957 -0.005725)"/><text x="-11.012" y="0" font-size="12.2">0</text><g transform="translate(0 -4.0)"><text x="-4.227" y="0" font-size="7.6">3</text></g></g>
<g transform="translate(53.25 273.30) rotate(0.1) scale(1 1.05)"><path class="one" d="M819 0L538 0L538 1059Q384 915 175 846L175 1101Q285 1137 349.5 1187Q414 1237 478.5 1287Q543 1337 591 1466L819 1466Z" transform="translate(-17.797 0) scale(0.005957 -0.005725)"/><text x="-11.012" y="0" font-size="12.2">0</text><g transform="translate(0 -4.0)"><text x="-4.227" y="0" font-size="7.6">4</text></g></g>
<g transform="translate(53.25 259.82) rotate(0.1) scale(1 1.05)"><path class="one" d="M819 0L538 0L538 1059Q384 915 175 846L175 1101Q285 1137 349.5 1187Q414 1237 478.5 1287Q543 1337 591 1466L819 1466Z" transform="translate(-17.797 0) scale(0.005957 -0.005725)"/><text x="-11.012" y="0" font-size="12.2">0</text><g transform="translate(0 -4.0)"><text x="-4.227" y="0" font-size="7.6">5</text></g></g>
<g transform="translate(53.25 246.35) rotate(0.1) scale(1 1.05)"><path class="one" d="M819 0L538 0L538 1059Q384 915 175 846L175 1101Q285 1137 349.5 1187Q414 1237 478.5 1287Q543 1337 591 1466L819 1466Z" transform="translate(-17.797 0) scale(0.005957 -0.005725)"/><text x="-11.012" y="0" font-size="12.2">0</text><g transform="translate(0 -4.0)"><text x="-4.227" y="0" font-size="7.6">6</text></g></g>
<g transform="translate(53.25 232.88) rotate(0.1) scale(1 1.05)"><path class="one" d="M819 0L538 0L538 1059Q384 915 175 846L175 1101Q285 1137 349.5 1187Q414 1237 478.5 1287Q543 1337 591 1466L819 1466Z" transform="translate(-17.797 0) scale(0.005957 -0.005725)"/><text x="-11.012" y="0" font-size="12.2">0</text><g transform="translate(0 -4.0)"><text x="-4.227" y="0" font-size="7.6">7</text></g></g>
<g transform="translate(53.25 219.40) rotate(0.1) scale(1 1.05)"><path class="one" d="M819 0L538 0L538 1059Q384 915 175 846L175 1101Q285 1137 349.5 1187Q414 1237 478.5 1287Q543 1337 591 1466L819 1466Z" transform="translate(-17.797 0) scale(0.005957 -0.005725)"/><text x="-11.012" y="0" font-size="12.2">0</text><g transform="translate(0 -4.0)"><text x="-4.227" y="0" font-size="7.6">8</text></g></g>
<g transform="translate(60.10 335.30) rotate(0.1) scale(1 1.05)"><text x="-3.393" y="0" font-size="12.2">0</text></g>
<g transform="translate(76.31 335.30) rotate(0.1) scale(1 1.05)"><text x="-3.393" y="0" font-size="12.2">2</text></g>
<g transform="translate(92.52 335.30) rotate(0.1) scale(1 1.05)"><text x="-3.393" y="0" font-size="12.2">4</text></g>
<g transform="translate(108.73 335.30) rotate(0.1) scale(1 1.05)"><text x="-3.393" y="0" font-size="12.2">6</text></g>
<g transform="translate(124.94 335.30) rotate(0.1) scale(1 1.05)"><text x="-3.393" y="0" font-size="12.2">8</text></g>
<g transform="translate(141.15 335.30) rotate(0.1) scale(1 1.05)"><path class="one" d="M819 0L538 0L538 1059Q384 915 175 846L175 1101Q285 1137 349.5 1187Q414 1237 478.5 1287Q543 1337 591 1466L819 1466Z" transform="translate(-6.785 0) scale(0.005957 -0.005725)"/><text x="0.000" y="0" font-size="12.2">0</text></g>
<g transform="translate(157.36 335.30) rotate(0.1) scale(1 1.05)"><path class="one" d="M819 0L538 0L538 1059Q384 915 175 846L175 1101Q285 1137 349.5 1187Q414 1237 478.5 1287Q543 1337 591 1466L819 1466Z" transform="translate(-6.785 0) scale(0.005957 -0.005725)"/><text x="0.000" y="0" font-size="12.2">2</text></g>
<g transform="translate(173.57 335.30) rotate(0.1) scale(1 1.05)"><path class="one" d="M819 0L538 0L538 1059Q384 915 175 846L175 1101Q285 1137 349.5 1187Q414 1237 478.5 1287Q543 1337 591 1466L819 1466Z" transform="translate(-6.785 0) scale(0.005957 -0.005725)"/><text x="0.000" y="0" font-size="12.2">4</text></g>
<g transform="translate(189.78 335.30) rotate(0.1) scale(1 1.05)"><path class="one" d="M819 0L538 0L538 1059Q384 915 175 846L175 1101Q285 1137 349.5 1187Q414 1237 478.5 1287Q543 1337 591 1466L819 1466Z" transform="translate(-6.785 0) scale(0.005957 -0.005725)"/><text x="0.000" y="0" font-size="12.2">6</text></g>
<g transform="translate(205.99 335.30) rotate(0.1) scale(1 1.05)"><path class="one" d="M819 0L538 0L538 1059Q384 915 175 846L175 1101Q285 1137 349.5 1187Q414 1237 478.5 1287Q543 1337 591 1466L819 1466Z" transform="translate(-6.785 0) scale(0.005957 -0.005725)"/><text x="0.000" y="0" font-size="12.2">8</text></g>
<g transform="translate(222.20 335.30) rotate(0.1) scale(1 1.05)"><text x="-6.785" y="0" font-size="12.2">20</text></g>
<line x1="61.40" y1="306.22" x2="219.00" y2="306.22" stroke="#000" stroke-width="1.35" stroke-dasharray="1.55 1.15"/>
<polyline points="67.31,250.80 91.62,263.90 115.94,267.60 140.25,270.50 164.56,276.80 188.88,279.90 213.19,287.00" fill="none" stroke="#6e6e6e" stroke-width="0.85" stroke-linejoin="round"/>
<polyline points="67.31,303.20 91.62,319.70 115.94,306.20 140.25,319.70 213.19,319.70" fill="none" stroke="#ff8000" stroke-width="0.85" stroke-linejoin="round"/>
<circle cx="67.31" cy="245.10" r="2.5" fill="#595959"/>
<circle cx="67.31" cy="251.90" r="2.5" fill="#595959"/>
<circle cx="67.31" cy="257.60" r="2.5" fill="#595959"/>
<circle cx="91.62" cy="262.70" r="2.5" fill="#595959"/>
<circle cx="91.62" cy="264.40" r="2.5" fill="#595959"/>
<circle cx="91.62" cy="269.30" r="2.5" fill="#595959"/>
<circle cx="115.94" cy="265.30" r="2.5" fill="#595959"/>
<circle cx="115.94" cy="267.60" r="2.5" fill="#595959"/>
<circle cx="115.94" cy="272.50" r="2.5" fill="#595959"/>
<circle cx="140.25" cy="268.20" r="2.5" fill="#595959"/>
<circle cx="140.25" cy="269.90" r="2.5" fill="#595959"/>
<circle cx="140.25" cy="277.80" r="2.5" fill="#595959"/>
<circle cx="164.56" cy="274.90" r="2.5" fill="#595959"/>
<circle cx="164.56" cy="280.60" r="2.5" fill="#595959"/>
<circle cx="188.88" cy="277.80" r="2.5" fill="#595959"/>
<circle cx="188.88" cy="282.40" r="2.5" fill="#595959"/>
<circle cx="213.19" cy="284.40" r="2.5" fill="#595959"/>
<circle cx="213.19" cy="294.50" r="2.5" fill="#595959"/>
<circle cx="67.31" cy="298.90" r="2.5" fill="#ff8000"/>
<circle cx="67.31" cy="301.80" r="2.5" fill="#ff8000"/>
<circle cx="67.31" cy="319.70" r="2.5" fill="#ff8000"/>
<circle cx="91.62" cy="319.70" r="2.5" fill="#ff8000"/>
<circle cx="115.94" cy="299.50" r="2.5" fill="#ff8000"/>
<circle cx="115.94" cy="319.70" r="2.5" fill="#ff8000"/>
<circle cx="140.25" cy="319.70" r="2.5" fill="#ff8000"/>
<circle cx="164.56" cy="319.70" r="2.5" fill="#ff8000"/>
<circle cx="188.88" cy="319.70" r="2.5" fill="#ff8000"/>
<circle cx="213.19" cy="319.70" r="2.5" fill="#ff8000"/>
<path d="M247.80 211.50H252.30V323.60" fill="none" stroke="#000" stroke-width="1.25"/>
<line x1="247.80" y1="319.10" x2="252.30" y2="319.10" stroke="#000" stroke-width="1.25"/>
<line x1="247.80" y1="305.65" x2="252.30" y2="305.65" stroke="#000" stroke-width="1.25"/>
<line x1="247.80" y1="292.20" x2="252.30" y2="292.20" stroke="#000" stroke-width="1.25"/>
<line x1="247.80" y1="278.75" x2="252.30" y2="278.75" stroke="#000" stroke-width="1.25"/>
<line x1="247.80" y1="265.30" x2="252.30" y2="265.30" stroke="#000" stroke-width="1.25"/>
<line x1="247.80" y1="251.85" x2="252.30" y2="251.85" stroke="#000" stroke-width="1.25"/>
<line x1="247.80" y1="238.40" x2="252.30" y2="238.40" stroke="#000" stroke-width="1.25"/>
<line x1="247.80" y1="224.95" x2="252.30" y2="224.95" stroke="#000" stroke-width="1.25"/>
<path d="M252.30 319.10H414.20V323.60" fill="none" stroke="#000" stroke-width="1.25"/>
<line x1="260.39" y1="319.10" x2="260.39" y2="321.60" stroke="#000" stroke-width="1.25"/>
<line x1="268.49" y1="319.10" x2="268.49" y2="323.60" stroke="#000" stroke-width="1.25"/>
<line x1="276.59" y1="319.10" x2="276.59" y2="321.60" stroke="#000" stroke-width="1.25"/>
<line x1="284.68" y1="319.10" x2="284.68" y2="323.60" stroke="#000" stroke-width="1.25"/>
<line x1="292.77" y1="319.10" x2="292.77" y2="321.60" stroke="#000" stroke-width="1.25"/>
<line x1="300.87" y1="319.10" x2="300.87" y2="323.60" stroke="#000" stroke-width="1.25"/>
<line x1="308.97" y1="319.10" x2="308.97" y2="321.60" stroke="#000" stroke-width="1.25"/>
<line x1="317.06" y1="319.10" x2="317.06" y2="323.60" stroke="#000" stroke-width="1.25"/>
<line x1="325.15" y1="319.10" x2="325.15" y2="321.60" stroke="#000" stroke-width="1.25"/>
<line x1="333.25" y1="319.10" x2="333.25" y2="323.60" stroke="#000" stroke-width="1.25"/>
<line x1="341.35" y1="319.10" x2="341.35" y2="321.60" stroke="#000" stroke-width="1.25"/>
<line x1="349.44" y1="319.10" x2="349.44" y2="323.60" stroke="#000" stroke-width="1.25"/>
<line x1="357.53" y1="319.10" x2="357.53" y2="321.60" stroke="#000" stroke-width="1.25"/>
<line x1="365.63" y1="319.10" x2="365.63" y2="323.60" stroke="#000" stroke-width="1.25"/>
<line x1="373.73" y1="319.10" x2="373.73" y2="321.60" stroke="#000" stroke-width="1.25"/>
<line x1="381.82" y1="319.10" x2="381.82" y2="323.60" stroke="#000" stroke-width="1.25"/>
<line x1="389.91" y1="319.10" x2="389.91" y2="321.60" stroke="#000" stroke-width="1.25"/>
<line x1="398.01" y1="319.10" x2="398.01" y2="323.60" stroke="#000" stroke-width="1.25"/>
<line x1="406.11" y1="319.10" x2="406.11" y2="321.60" stroke="#000" stroke-width="1.25"/>
<g transform="translate(246.40 326.00) rotate(0.1) scale(1 1.05)"><path class="one" d="M819 0L538 0L538 1059Q384 915 175 846L175 1101Q285 1137 349.5 1187Q414 1237 478.5 1287Q543 1337 591 1466L819 1466Z" transform="translate(-17.797 0) scale(0.005957 -0.005725)"/><text x="-11.012" y="0" font-size="12.2">0</text><g transform="translate(0 -4.0)"><text x="-4.227" y="0" font-size="7.6">0</text></g></g>
<g transform="translate(246.40 312.55) rotate(0.1) scale(1 1.05)"><path class="one" d="M819 0L538 0L538 1059Q384 915 175 846L175 1101Q285 1137 349.5 1187Q414 1237 478.5 1287Q543 1337 591 1466L819 1466Z" transform="translate(-17.797 0) scale(0.005957 -0.005725)"/><text x="-11.012" y="0" font-size="12.2">0</text><g transform="translate(0 -4.0)"><path class="one" d="M819 0L538 0L538 1059Q384 915 175 846L175 1101Q285 1137 349.5 1187Q414 1237 478.5 1287Q543 1337 591 1466L819 1466Z" transform="translate(-4.227 0) scale(0.003711 -0.003567)"/></g></g>
<g transform="translate(246.40 299.10) rotate(0.1) scale(1 1.05)"><path class="one" d="M819 0L538 0L538 1059Q384 915 175 846L175 1101Q285 1137 349.5 1187Q414 1237 478.5 1287Q543 1337 591 1466L819 1466Z" transform="translate(-17.797 0) scale(0.005957 -0.005725)"/><text x="-11.012" y="0" font-size="12.2">0</text><g transform="translate(0 -4.0)"><text x="-4.227" y="0" font-size="7.6">2</text></g></g>
<g transform="translate(246.40 285.65) rotate(0.1) scale(1 1.05)"><path class="one" d="M819 0L538 0L538 1059Q384 915 175 846L175 1101Q285 1137 349.5 1187Q414 1237 478.5 1287Q543 1337 591 1466L819 1466Z" transform="translate(-17.797 0) scale(0.005957 -0.005725)"/><text x="-11.012" y="0" font-size="12.2">0</text><g transform="translate(0 -4.0)"><text x="-4.227" y="0" font-size="7.6">3</text></g></g>
<g transform="translate(246.40 272.20) rotate(0.1) scale(1 1.05)"><path class="one" d="M819 0L538 0L538 1059Q384 915 175 846L175 1101Q285 1137 349.5 1187Q414 1237 478.5 1287Q543 1337 591 1466L819 1466Z" transform="translate(-17.797 0) scale(0.005957 -0.005725)"/><text x="-11.012" y="0" font-size="12.2">0</text><g transform="translate(0 -4.0)"><text x="-4.227" y="0" font-size="7.6">4</text></g></g>
<g transform="translate(246.40 258.75) rotate(0.1) scale(1 1.05)"><path class="one" d="M819 0L538 0L538 1059Q384 915 175 846L175 1101Q285 1137 349.5 1187Q414 1237 478.5 1287Q543 1337 591 1466L819 1466Z" transform="translate(-17.797 0) scale(0.005957 -0.005725)"/><text x="-11.012" y="0" font-size="12.2">0</text><g transform="translate(0 -4.0)"><text x="-4.227" y="0" font-size="7.6">5</text></g></g>
<g transform="translate(246.40 245.30) rotate(0.1) scale(1 1.05)"><path class="one" d="M819 0L538 0L538 1059Q384 915 175 846L175 1101Q285 1137 349.5 1187Q414 1237 478.5 1287Q543 1337 591 1466L819 1466Z" transform="translate(-17.797 0) scale(0.005957 -0.005725)"/><text x="-11.012" y="0" font-size="12.2">0</text><g transform="translate(0 -4.0)"><text x="-4.227" y="0" font-size="7.6">6</text></g></g>
<g transform="translate(246.40 231.85) rotate(0.1) scale(1 1.05)"><path class="one" d="M819 0L538 0L538 1059Q384 915 175 846L175 1101Q285 1137 349.5 1187Q414 1237 478.5 1287Q543 1337 591 1466L819 1466Z" transform="translate(-17.797 0) scale(0.005957 -0.005725)"/><text x="-11.012" y="0" font-size="12.2">0</text><g transform="translate(0 -4.0)"><text x="-4.227" y="0" font-size="7.6">7</text></g></g>
<g transform="translate(246.40 218.40) rotate(0.1) scale(1 1.05)"><path class="one" d="M819 0L538 0L538 1059Q384 915 175 846L175 1101Q285 1137 349.5 1187Q414 1237 478.5 1287Q543 1337 591 1466L819 1466Z" transform="translate(-17.797 0) scale(0.005957 -0.005725)"/><text x="-11.012" y="0" font-size="12.2">0</text><g transform="translate(0 -4.0)"><text x="-4.227" y="0" font-size="7.6">8</text></g></g>
<g transform="translate(252.70 334.70) rotate(0.1) scale(1 1.05)"><text x="-3.393" y="0" font-size="12.2">0</text></g>
<g transform="translate(268.89 334.70) rotate(0.1) scale(1 1.05)"><text x="-3.393" y="0" font-size="12.2">2</text></g>
<g transform="translate(285.08 334.70) rotate(0.1) scale(1 1.05)"><text x="-3.393" y="0" font-size="12.2">4</text></g>
<g transform="translate(301.27 334.70) rotate(0.1) scale(1 1.05)"><text x="-3.393" y="0" font-size="12.2">6</text></g>
<g transform="translate(317.46 334.70) rotate(0.1) scale(1 1.05)"><text x="-3.393" y="0" font-size="12.2">8</text></g>
<g transform="translate(333.65 334.70) rotate(0.1) scale(1 1.05)"><path class="one" d="M819 0L538 0L538 1059Q384 915 175 846L175 1101Q285 1137 349.5 1187Q414 1237 478.5 1287Q543 1337 591 1466L819 1466Z" transform="translate(-6.785 0) scale(0.005957 -0.005725)"/><text x="0.000" y="0" font-size="12.2">0</text></g>
<g transform="translate(349.84 334.70) rotate(0.1) scale(1 1.05)"><path class="one" d="M819 0L538 0L538 1059Q384 915 175 846L175 1101Q285 1137 349.5 1187Q414 1237 478.5 1287Q543 1337 591 1466L819 1466Z" transform="translate(-6.785 0) scale(0.005957 -0.005725)"/><text x="0.000" y="0" font-size="12.2">2</text></g>
<g transform="translate(366.03 334.70) rotate(0.1) scale(1 1.05)"><path class="one" d="M819 0L538 0L538 1059Q384 915 175 846L175 1101Q285 1137 349.5 1187Q414 1237 478.5 1287Q543 1337 591 1466L819 1466Z" transform="translate(-6.785 0) scale(0.005957 -0.005725)"/><text x="0.000" y="0" font-size="12.2">4</text></g>
<g transform="translate(382.22 334.70) rotate(0.1) scale(1 1.05)"><path class="one" d="M819 0L538 0L538 1059Q384 915 175 846L175 1101Q285 1137 349.5 1187Q414 1237 478.5 1287Q543 1337 591 1466L819 1466Z" transform="translate(-6.785 0) scale(0.005957 -0.005725)"/><text x="0.000" y="0" font-size="12.2">6</text></g>
<g transform="translate(398.41 334.70) rotate(0.1) scale(1 1.05)"><path class="one" d="M819 0L538 0L538 1059Q384 915 175 846L175 1101Q285 1137 349.5 1187Q414 1237 478.5 1287Q543 1337 591 1466L819 1466Z" transform="translate(-6.785 0) scale(0.005957 -0.005725)"/><text x="0.000" y="0" font-size="12.2">8</text></g>
<g transform="translate(414.60 334.70) rotate(0.1) scale(1 1.05)"><text x="-6.785" y="0" font-size="12.2">20</text></g>
<line x1="254.50" y1="305.65" x2="412.90" y2="305.65" stroke="#000" stroke-width="1.35" stroke-dasharray="1.55 1.15"/>
<polyline points="260.39,250.20 284.68,259.80 308.97,263.00 333.25,272.50 357.53,274.20 381.82,300.50 406.11,285.00" fill="none" stroke="#6e6e6e" stroke-width="0.85" stroke-linejoin="round"/>
<polyline points="260.39,303.90 284.68,319.10 406.11,319.10" fill="none" stroke="#ff8000" stroke-width="0.85" stroke-linejoin="round"/>
<circle cx="260.39" cy="246.80" r="2.5" fill="#595959"/>
<circle cx="260.39" cy="248.90" r="2.5" fill="#595959"/>
<circle cx="260.39" cy="256.30" r="2.5" fill="#595959"/>
<circle cx="284.68" cy="257.00" r="2.5" fill="#595959"/>
<circle cx="284.68" cy="262.00" r="2.5" fill="#595959"/>
<circle cx="284.68" cy="263.80" r="2.5" fill="#595959"/>
<circle cx="284.68" cy="266.20" r="2.5" fill="#595959"/>
<circle cx="308.97" cy="261.50" r="2.5" fill="#595959"/>
<circle cx="308.97" cy="263.20" r="2.5" fill="#595959"/>
<circle cx="308.97" cy="264.80" r="2.5" fill="#595959"/>
<circle cx="333.25" cy="268.10" r="2.5" fill="#595959"/>
<circle cx="333.25" cy="274.50" r="2.5" fill="#595959"/>
<circle cx="333.25" cy="292.10" r="2.5" fill="#595959"/>
<circle cx="357.53" cy="270.40" r="2.5" fill="#595959"/>
<circle cx="357.53" cy="294.50" r="2.5" fill="#595959"/>
<circle cx="381.82" cy="296.40" r="2.5" fill="#595959"/>
<circle cx="406.11" cy="280.70" r="2.5" fill="#595959"/>
<circle cx="260.39" cy="302.50" r="2.5" fill="#ff8000"/>
<circle cx="260.39" cy="304.20" r="2.5" fill="#ff8000"/>
<circle cx="284.68" cy="319.10" r="2.5" fill="#ff8000"/>
<circle cx="308.97" cy="319.10" r="2.5" fill="#ff8000"/>
<circle cx="333.25" cy="319.10" r="2.5" fill="#ff8000"/>
<circle cx="357.53" cy="319.10" r="2.5" fill="#ff8000"/>
<circle cx="381.82" cy="319.10" r="2.5" fill="#ff8000"/>
<circle cx="406.11" cy="319.10" r="2.5" fill="#ff8000"/>
<path d="M441.20 211.50H445.70V323.80" fill="none" stroke="#000" stroke-width="1.25"/>
<line x1="441.20" y1="319.30" x2="445.70" y2="319.30" stroke="#000" stroke-width="1.25"/>
<line x1="441.20" y1="305.82" x2="445.70" y2="305.82" stroke="#000" stroke-width="1.25"/>
<line x1="441.20" y1="292.35" x2="445.70" y2="292.35" stroke="#000" stroke-width="1.25"/>
<line x1="441.20" y1="278.88" x2="445.70" y2="278.88" stroke="#000" stroke-width="1.25"/>
<line x1="441.20" y1="265.40" x2="445.70" y2="265.40" stroke="#000" stroke-width="1.25"/>
<line x1="441.20" y1="251.93" x2="445.70" y2="251.93" stroke="#000" stroke-width="1.25"/>
<line x1="441.20" y1="238.45" x2="445.70" y2="238.45" stroke="#000" stroke-width="1.25"/>
<line x1="441.20" y1="224.97" x2="445.70" y2="224.97" stroke="#000" stroke-width="1.25"/>
<path d="M445.70 319.30H608.20V323.80" fill="none" stroke="#000" stroke-width="1.25"/>
<line x1="453.82" y1="319.30" x2="453.82" y2="321.80" stroke="#000" stroke-width="1.25"/>
<line x1="461.95" y1="319.30" x2="461.95" y2="323.80" stroke="#000" stroke-width="1.25"/>
<line x1="470.07" y1="319.30" x2="470.07" y2="321.80" stroke="#000" stroke-width="1.25"/>
<line x1="478.20" y1="319.30" x2="478.20" y2="323.80" stroke="#000" stroke-width="1.25"/>
<line x1="486.32" y1="319.30" x2="486.32" y2="321.80" stroke="#000" stroke-width="1.25"/>
<line x1="494.45" y1="319.30" x2="494.45" y2="323.80" stroke="#000" stroke-width="1.25"/>
<line x1="502.58" y1="319.30" x2="502.58" y2="321.80" stroke="#000" stroke-width="1.25"/>
<line x1="510.70" y1="319.30" x2="510.70" y2="323.80" stroke="#000" stroke-width="1.25"/>
<line x1="518.83" y1="319.30" x2="518.83" y2="321.80" stroke="#000" stroke-width="1.25"/>
<line x1="526.95" y1="319.30" x2="526.95" y2="323.80" stroke="#000" stroke-width="1.25"/>
<line x1="535.08" y1="319.30" x2="535.08" y2="321.80" stroke="#000" stroke-width="1.25"/>
<line x1="543.20" y1="319.30" x2="543.20" y2="323.80" stroke="#000" stroke-width="1.25"/>
<line x1="551.33" y1="319.30" x2="551.33" y2="321.80" stroke="#000" stroke-width="1.25"/>
<line x1="559.45" y1="319.30" x2="559.45" y2="323.80" stroke="#000" stroke-width="1.25"/>
<line x1="567.58" y1="319.30" x2="567.58" y2="321.80" stroke="#000" stroke-width="1.25"/>
<line x1="575.70" y1="319.30" x2="575.70" y2="323.80" stroke="#000" stroke-width="1.25"/>
<line x1="583.83" y1="319.30" x2="583.83" y2="321.80" stroke="#000" stroke-width="1.25"/>
<line x1="591.95" y1="319.30" x2="591.95" y2="323.80" stroke="#000" stroke-width="1.25"/>
<line x1="600.08" y1="319.30" x2="600.08" y2="321.80" stroke="#000" stroke-width="1.25"/>
<g transform="translate(439.95 325.70) rotate(0.1) scale(1 1.05)"><path class="one" d="M819 0L538 0L538 1059Q384 915 175 846L175 1101Q285 1137 349.5 1187Q414 1237 478.5 1287Q543 1337 591 1466L819 1466Z" transform="translate(-17.797 0) scale(0.005957 -0.005725)"/><text x="-11.012" y="0" font-size="12.2">0</text><g transform="translate(0 -4.0)"><text x="-4.227" y="0" font-size="7.6">0</text></g></g>
<g transform="translate(439.95 312.22) rotate(0.1) scale(1 1.05)"><path class="one" d="M819 0L538 0L538 1059Q384 915 175 846L175 1101Q285 1137 349.5 1187Q414 1237 478.5 1287Q543 1337 591 1466L819 1466Z" transform="translate(-17.797 0) scale(0.005957 -0.005725)"/><text x="-11.012" y="0" font-size="12.2">0</text><g transform="translate(0 -4.0)"><path class="one" d="M819 0L538 0L538 1059Q384 915 175 846L175 1101Q285 1137 349.5 1187Q414 1237 478.5 1287Q543 1337 591 1466L819 1466Z" transform="translate(-4.227 0) scale(0.003711 -0.003567)"/></g></g>
<g transform="translate(439.95 298.75) rotate(0.1) scale(1 1.05)"><path class="one" d="M819 0L538 0L538 1059Q384 915 175 846L175 1101Q285 1137 349.5 1187Q414 1237 478.5 1287Q543 1337 591 1466L819 1466Z" transform="translate(-17.797 0) scale(0.005957 -0.005725)"/><text x="-11.012" y="0" font-size="12.2">0</text><g transform="translate(0 -4.0)"><text x="-4.227" y="0" font-size="7.6">2</text></g></g>
<g transform="translate(439.95 285.27) rotate(0.1) scale(1 1.05)"><path class="one" d="M819 0L538 0L538 1059Q384 915 175 846L175 1101Q285 1137 349.5 1187Q414 1237 478.5 1287Q543 1337 591 1466L819 1466Z" transform="translate(-17.797 0) scale(0.005957 -0.005725)"/><text x="-11.012" y="0" font-size="12.2">0</text><g transform="translate(0 -4.0)"><text x="-4.227" y="0" font-size="7.6">3</text></g></g>
<g transform="translate(439.95 271.80) rotate(0.1) scale(1 1.05)"><path class="one" d="M819 0L538 0L538 1059Q384 915 175 846L175 1101Q285 1137 349.5 1187Q414 1237 478.5 1287Q543 1337 591 1466L819 1466Z" transform="translate(-17.797 0) scale(0.005957 -0.005725)"/><text x="-11.012" y="0" font-size="12.2">0</text><g transform="translate(0 -4.0)"><text x="-4.227" y="0" font-size="7.6">4</text></g></g>
<g transform="translate(439.95 258.32) rotate(0.1) scale(1 1.05)"><path class="one" d="M819 0L538 0L538 1059Q384 915 175 846L175 1101Q285 1137 349.5 1187Q414 1237 478.5 1287Q543 1337 591 1466L819 1466Z" transform="translate(-17.797 0) scale(0.005957 -0.005725)"/><text x="-11.012" y="0" font-size="12.2">0</text><g transform="translate(0 -4.0)"><text x="-4.227" y="0" font-size="7.6">5</text></g></g>
<g transform="translate(439.95 244.85) rotate(0.1) scale(1 1.05)"><path class="one" d="M819 0L538 0L538 1059Q384 915 175 846L175 1101Q285 1137 349.5 1187Q414 1237 478.5 1287Q543 1337 591 1466L819 1466Z" transform="translate(-17.797 0) scale(0.005957 -0.005725)"/><text x="-11.012" y="0" font-size="12.2">0</text><g transform="translate(0 -4.0)"><text x="-4.227" y="0" font-size="7.6">6</text></g></g>
<g transform="translate(439.95 231.38) rotate(0.1) scale(1 1.05)"><path class="one" d="M819 0L538 0L538 1059Q384 915 175 846L175 1101Q285 1137 349.5 1187Q414 1237 478.5 1287Q543 1337 591 1466L819 1466Z" transform="translate(-17.797 0) scale(0.005957 -0.005725)"/><text x="-11.012" y="0" font-size="12.2">0</text><g transform="translate(0 -4.0)"><text x="-4.227" y="0" font-size="7.6">7</text></g></g>
<g transform="translate(439.95 217.90) rotate(0.1) scale(1 1.05)"><path class="one" d="M819 0L538 0L538 1059Q384 915 175 846L175 1101Q285 1137 349.5 1187Q414 1237 478.5 1287Q543 1337 591 1466L819 1466Z" transform="translate(-17.797 0) scale(0.005957 -0.005725)"/><text x="-11.012" y="0" font-size="12.2">0</text><g transform="translate(0 -4.0)"><text x="-4.227" y="0" font-size="7.6">8</text></g></g>
<g transform="translate(446.10 334.90) rotate(0.1) scale(1 1.05)"><text x="-3.393" y="0" font-size="12.2">0</text></g>
<g transform="translate(462.35 334.90) rotate(0.1) scale(1 1.05)"><text x="-3.393" y="0" font-size="12.2">2</text></g>
<g transform="translate(478.60 334.90) rotate(0.1) scale(1 1.05)"><text x="-3.393" y="0" font-size="12.2">4</text></g>
<g transform="translate(494.85 334.90) rotate(0.1) scale(1 1.05)"><text x="-3.393" y="0" font-size="12.2">6</text></g>
<g transform="translate(511.10 334.90) rotate(0.1) scale(1 1.05)"><text x="-3.393" y="0" font-size="12.2">8</text></g>
<g transform="translate(527.35 334.90) rotate(0.1) scale(1 1.05)"><path class="one" d="M819 0L538 0L538 1059Q384 915 175 846L175 1101Q285 1137 349.5 1187Q414 1237 478.5 1287Q543 1337 591 1466L819 1466Z" transform="translate(-6.785 0) scale(0.005957 -0.005725)"/><text x="0.000" y="0" font-size="12.2">0</text></g>
<g transform="translate(543.60 334.90) rotate(0.1) scale(1 1.05)"><path class="one" d="M819 0L538 0L538 1059Q384 915 175 846L175 1101Q285 1137 349.5 1187Q414 1237 478.5 1287Q543 1337 591 1466L819 1466Z" transform="translate(-6.785 0) scale(0.005957 -0.005725)"/><text x="0.000" y="0" font-size="12.2">2</text></g>
<g transform="translate(559.85 334.90) rotate(0.1) scale(1 1.05)"><path class="one" d="M819 0L538 0L538 1059Q384 915 175 846L175 1101Q285 1137 349.5 1187Q414 1237 478.5 1287Q543 1337 591 1466L819 1466Z" transform="translate(-6.785 0) scale(0.005957 -0.005725)"/><text x="0.000" y="0" font-size="12.2">4</text></g>
<g transform="translate(576.10 334.90) rotate(0.1) scale(1 1.05)"><path class="one" d="M819 0L538 0L538 1059Q384 915 175 846L175 1101Q285 1137 349.5 1187Q414 1237 478.5 1287Q543 1337 591 1466L819 1466Z" transform="translate(-6.785 0) scale(0.005957 -0.005725)"/><text x="0.000" y="0" font-size="12.2">6</text></g>
<g transform="translate(592.35 334.90) rotate(0.1) scale(1 1.05)"><path class="one" d="M819 0L538 0L538 1059Q384 915 175 846L175 1101Q285 1137 349.5 1187Q414 1237 478.5 1287Q543 1337 591 1466L819 1466Z" transform="translate(-6.785 0) scale(0.005957 -0.005725)"/><text x="0.000" y="0" font-size="12.2">8</text></g>
<g transform="translate(608.60 334.90) rotate(0.1) scale(1 1.05)"><text x="-6.785" y="0" font-size="12.2">20</text></g>
<line x1="447.90" y1="305.82" x2="606.20" y2="305.82" stroke="#000" stroke-width="1.35" stroke-dasharray="1.55 1.15"/>
<polyline points="453.82,275.50 478.20,319.30" fill="none" stroke="#6e6e6e" stroke-width="0.85" stroke-linejoin="round"/>
<polyline points="453.82,299.00 478.20,319.30 600.08,319.30" fill="none" stroke="#ff8000" stroke-width="0.85" stroke-linejoin="round"/>
<circle cx="453.82" cy="270.40" r="2.5" fill="#595959"/>
<circle cx="453.82" cy="272.60" r="2.5" fill="#595959"/>
<circle cx="453.82" cy="274.70" r="2.5" fill="#595959"/>
<circle cx="453.82" cy="294.80" r="2.5" fill="#ff8000"/>
<circle cx="453.82" cy="298.90" r="2.5" fill="#ff8000"/>
<circle cx="478.20" cy="319.30" r="2.5" fill="#ff8000"/>
<circle cx="502.58" cy="319.30" r="2.5" fill="#ff8000"/>
<circle cx="526.95" cy="319.30" r="2.5" fill="#ff8000"/>
<circle cx="551.33" cy="319.30" r="2.5" fill="#ff8000"/>
<circle cx="575.70" cy="319.30" r="2.5" fill="#ff8000"/>
<circle cx="600.08" cy="319.30" r="2.5" fill="#ff8000"/>
<text transform="translate(26.80 20.20) rotate(0.1) scale(1 1.07)" font-size="27.5">A</text>
<text transform="translate(220.90 20.80) rotate(0.1) scale(1 1.07)" font-size="26.8">B</text>
<text transform="translate(415.90 20.30) rotate(0.1) scale(1 1.07)" font-size="27.0">C</text>
<text transform="translate(135.00 21.80) rotate(0.1) scale(1 1.08)" font-size="15" text-anchor="middle">G636</text>
<rect x="116.00" y="23.50" width="38" height="1.4" fill="#000"/>
<text transform="translate(328.50 21.80) rotate(0.1) scale(1 1.08)" font-size="15" text-anchor="middle">G654</text>
<rect x="309.50" y="23.50" width="38" height="1.4" fill="#000"/>
<g transform="translate(522.6 21.10) rotate(0.1) scale(1 1.05)"><text x="-30.853" y="0" font-size="15" font-style="italic">Ab</text><path class="one" d="M819 0L538 0L538 1059Q384 915 175 846L175 1101Q285 1137 349.5 1187Q414 1237 478.5 1287Q543 1337 591 1466L819 1466Z" transform="translate(-10.858 0) scale(0.007324 -0.007039)"/><text x="-2.516" y="0" font-size="15">9606</text></g>
<rect x="491.1" y="22.50" width="63.1" height="1.4" fill="#000"/>
<text transform="translate(139.00 171.80) rotate(0.1) scale(1 1.07)" font-size="12.5" text-anchor="middle">Day</text>
<text transform="translate(331.20 171.80) rotate(0.1) scale(1 1.07)" font-size="12.5" text-anchor="middle">Day</text>
<text transform="translate(525.80 171.80) rotate(0.1) scale(1 1.07)" font-size="12.5" text-anchor="middle">Day</text>
<text transform="translate(28.6 93.30) rotate(-89.9) scale(1 1.07)" font-size="12" text-anchor="middle">CFU</text>
<g transform="translate(12 141.90) rotate(-89.9) scale(1 1.06)"><path class="one" d="M819 0L538 0L538 1059Q384 915 175 846L175 1101Q285 1137 349.5 1187Q414 1237 478.5 1287Q543 1337 591 1466L819 1466Z" transform="translate(0.000 0) scale(0.007812 -0.007509)"/><text x="8.898" y="0" font-size="16.0">0</text><text x="17.897" y="-4.5" font-size="10.0">8</text></g>
<text transform="translate(12 141.90) rotate(-89.9)" x="27.46" y="0" font-size="15.5">Inoculum</text>
<rect x="13.9" y="45.80" width="1.6" height="95.60" fill="#000"/>
<circle cx="597" cy="43.50" r="3.4" fill="#cc6600"/>
<circle cx="597" cy="64.40" r="3.4" fill="#000000"/>
<text transform="translate(606.20 48.80) rotate(0.1) scale(1 0.97)" font-size="15.1">WT</text>
<text transform="translate(606.40 71.00) rotate(0.1) scale(1 0.97)" font-size="15.3"><tspan font-style="italic">tlr4</tspan> mutant</text>
<text transform="translate(28.00 197.80) rotate(0.1) scale(1 1.07)" font-size="26.8">D</text>
<text transform="translate(220.90 197.80) rotate(0.1) scale(1 1.07)" font-size="26.8">E</text>
<text transform="translate(416.60 197.60) rotate(0.1) scale(1 1.07)" font-size="26.8">F</text>
<text transform="translate(135.00 199.30) rotate(0.1) scale(1 1.08)" font-size="15" text-anchor="middle">G636</text>
<rect x="116.00" y="200.40" width="38" height="1.4" fill="#000"/>
<text transform="translate(328.50 199.30) rotate(0.1) scale(1 1.08)" font-size="15" text-anchor="middle">G654</text>
<rect x="309.50" y="200.40" width="38" height="1.4" fill="#000"/>
<g transform="translate(522.6 198.60) rotate(0.1) scale(1 1.05)"><text x="-30.853" y="0" font-size="15" font-style="italic">Ab</text><path class="one" d="M819 0L538 0L538 1059Q384 915 175 846L175 1101Q285 1137 349.5 1187Q414 1237 478.5 1287Q543 1337 591 1466L819 1466Z" transform="translate(-10.858 0) scale(0.007324 -0.007039)"/><text x="-2.516" y="0" font-size="15">9606</text></g>
<rect x="491.1" y="200.00" width="63.1" height="1.4" fill="#000"/>
<text transform="translate(140.00 349.30) rotate(0.1) scale(1 1.07)" font-size="12.5" text-anchor="middle">Day</text>
<text transform="translate(332.80 349.30) rotate(0.1) scale(1 1.07)" font-size="12.5" text-anchor="middle">Day</text>
<text transform="translate(526.30 349.30) rotate(0.1) scale(1 1.07)" font-size="12.5" text-anchor="middle">Day</text>
<text transform="translate(28.6 270.80) rotate(-89.9) scale(1 1.07)" font-size="12" text-anchor="middle">CFU</text>
<g transform="translate(12 319.40) rotate(-89.9) scale(1 1.06)"><path class="one" d="M819 0L538 0L538 1059Q384 915 175 846L175 1101Q285 1137 349.5 1187Q414 1237 478.5 1287Q543 1337 591 1466L819 1466Z" transform="translate(0.000 0) scale(0.007812 -0.007509)"/><text x="8.898" y="0" font-size="16.0">0</text><text x="17.897" y="-4.5" font-size="10.0">5</text></g>
<text transform="translate(12 319.40) rotate(-89.9)" x="27.46" y="0" font-size="15.5">Inoculum</text>
<rect x="13.9" y="223.30" width="1.6" height="95.60" fill="#000"/>
<circle cx="597" cy="220.00" r="3.4" fill="#ff8000"/>
<circle cx="597" cy="240.90" r="3.4" fill="#595959"/>
<text transform="translate(606.20 225.30) rotate(0.1) scale(1 0.97)" font-size="15.1">WT</text>
<text transform="translate(606.40 247.50) rotate(0.1) scale(1 0.97)" font-size="15.3"><tspan font-style="italic">tlr4</tspan> mutant</text>
</svg></body></html>
